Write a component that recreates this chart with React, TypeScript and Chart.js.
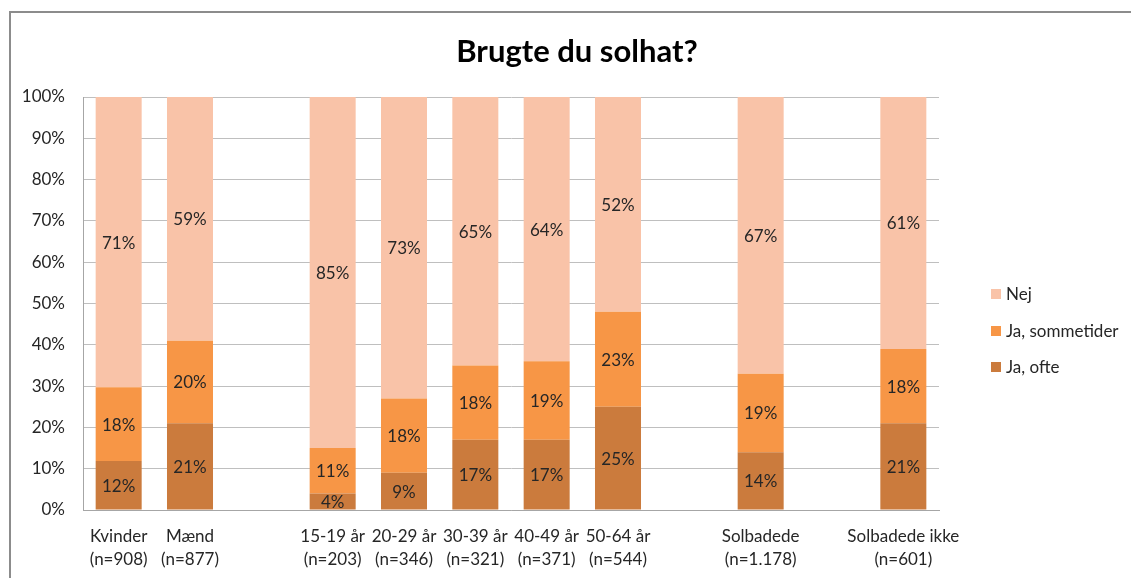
import React, { useEffect, useRef } from "react";
import { Chart, registerables } from "chart.js";

Chart.register(...registerables);

const categories: (string | string[])[] = [
  ["Kvinder", "(n=908)"],
  ["Mænd", "(n=877)"],
  "",
  ["15-19 år", "(n=203)"],
  ["20-29 år", "(n=346)"],
  ["30-39 år", "(n=321)"],
  ["40-49 år", "(n=371)"],
  ["50-64 år", "(n=544)"],
  "",
  ["Solbadede", "(n=1.178)"],
  "",
  ["Solbadede ikke", "(n=601)"],
];

const jaOfte = [12, 21, null, 4, 9, 17, 17, 25, null, 14, null, 21];
const jaSommetider = [18, 20, null, 11, 18, 18, 19, 23, null, 19, null, 18];
const nej = [71, 59, null, 85, 73, 65, 64, 52, null, 67, null, 61];

const seriesNames = ["Ja, ofte", "Ja, sommetider", "Nej"];
const seriesColors = ["#CB7B3D", "#F79646", "#F9C3A8"];
const yTicks = [0, 10, 20, 30, 40, 50, 60, 70, 80, 90, 100];

const FONT = "Lato, 'Open Sans', sans-serif";

export default function App() {
  const ref = useRef<HTMLCanvasElement | null>(null);

  useEffect(() => {
    if (!ref.current) return;
    const raw = [jaOfte, jaSommetider, nej];
    const totals = categories.map((_, i) =>
      raw.reduce((s, arr) => s + (arr[i] ?? 0), 0)
    );
    const norm = raw.map((arr) =>
      arr.map((v, i) => (v == null ? null : (v / totals[i]) * 100))
    );

    const labelPlugin = {
      id: "labels",
      afterDatasetsDraw(chart: any) {
        const ctx = chart.ctx;
        ctx.save();
        ctx.font = `17px ${FONT}`;
        ctx.fillStyle = "#262626";
        ctx.textAlign = "center";
        ctx.textBaseline = "middle";
        chart.data.datasets.forEach((ds: any, di: number) => {
          const meta = chart.getDatasetMeta(di);
          meta.data.forEach((el: any, i: number) => {
            const v = raw[di][i];
            if (v == null) return;
            ctx.fillText(v + "%", el.x, (el.y + el.base) / 2 + 1);
          });
        });
        ctx.restore();
      },
    };

    const decorPlugin = {
      id: "decor",
      afterDraw(chart: any) {
        const ctx = chart.ctx;
        ctx.save();
        // title
        ctx.font = `bold 31px ${FONT}`;
        ctx.fillStyle = "#000";
        ctx.textAlign = "center";
        ctx.textBaseline = "middle";
        ctx.fillText("Brugte du solhat?", 577, 52);
        // legend
        const ys = [294, 331, 367];
        const order = [2, 1, 0];
        ctx.font = `17px ${FONT}`;
        ctx.textAlign = "left";
        order.forEach((si, k) => {
          ctx.fillStyle = seriesColors[si];
          ctx.fillRect(991, ys[k] - 5, 10, 10);
          ctx.fillStyle = "#262626";
          ctx.fillText(seriesNames[si], 1006, ys[k] + 1);
        });
        ctx.restore();
      },
    };

    const chart = new Chart(ref.current, {
      type: "bar",
      data: {
        labels: categories,
        datasets: norm.map((d, i) => ({
          label: seriesNames[i],
          data: d,
          backgroundColor: seriesColors[i],
          borderWidth: 0,
          categoryPercentage: 1,
          barPercentage: 0.645,
        })),
      },
      options: {
        responsive: false,
        animation: false,
        layout: { padding: { top: 97, right: 192, bottom: 0, left: 0 } },
        plugins: {
          legend: { display: false },
          title: { display: false },
          tooltip: { enabled: false },
        },
        scales: {
          x: {
            stacked: true,
            grid: { display: false, drawTicks: false },
            border: { display: true, color: "#A6A6A6", width: 1 },
            ticks: {
              color: "#262626",
              font: { family: FONT, size: 17, lineHeight: 1.35 },
              padding: 15,
              maxRotation: 0,
              autoSkip: false,
            },
            afterFit: (s: any) => {
              s.height = 68;
            },
          },
          y: {
            stacked: true,
            min: 0,
            max: 100,
            afterBuildTicks: (s: any) => {
              s.ticks = yTicks.map((v) => ({ value: v }));
            },
            grid: { color: "#BFBFBF", lineWidth: 1, drawTicks: false },
            border: { display: true, color: "#A6A6A6", width: 1 },
            ticks: {
              color: "#262626",
              font: { family: FONT, size: 17 },
              padding: 18,
              callback: (v: any) => v + "%",
            },
            afterFit: (s: any) => {
              s.width = 83;
            },
          },
        },
      },
      plugins: [labelPlugin, decorPlugin],
    });
    return () => chart.destroy();
  }, []);

  return (
    <div style={{ position: "absolute", left: 0, top: 0, width: 1131, height: 578, background: "#fff", overflow: "hidden" }}>
      <div
        style={{
          position: "absolute",
          left: 9,
          top: 11,
          width: 1200,
          height: 700,
          borderTop: "2px solid #8C8C8C",
          borderLeft: "2px solid #8C8C8C",
        }}
      />
      <canvas ref={ref} width={1131} height={578} style={{ position: "absolute", left: 0, top: 0 }} />
    </div>
  );
}
